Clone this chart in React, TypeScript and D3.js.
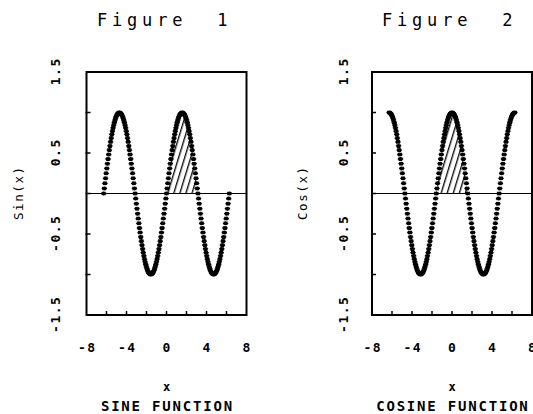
import React from "react";
import * as d3 from "d3";

// ---- data ----
const N_POINTS = 201;
const xValues: number[] = d3.range(N_POINTS).map((i) => -2 * Math.PI + (i * 4 * Math.PI) / (N_POINTS - 1));
const sinValues: number[] = xValues.map((x) => Math.sin(x));
const cosValues: number[] = xValues.map((x) => Math.cos(x));

const titles = ["Figure  1", "Figure  2"];
const yLabels = ["Sin(x)", "Cos(x)"];
const xLabels = ["SINE FUNCTION", "COSINE FUNCTION"];
const shadeRanges: [number, number][] = [
  [0, Math.PI],
  [-Math.PI / 2, Math.PI / 2],
];
const xTickMarks = [-6, -4, -2, 0, 2, 4, 6];
const xTickLabels = [-8, -4, 0, 4, 8];
const yTickMarks = [1, 0.5, 0, -0.5, -1];
const yTickLabels = ["1.5", "0.5", "-0.5", "-1.5"];
const xDomain: [number, number] = [-8, 8];
const yDomain: [number, number] = [-1.5, 1.5];

const W = 533;
const H = 414;

const MONO = "'DejaVu Sans Mono', 'Liberation Mono', monospace";

const starPath = "M-2.7,0H2.7M0,-2V2M-1.9,-1.5L1.9,1.5M-1.9,1.5L1.9,-1.5";

type PanelProps = {
  idx: number;
  left: number;
  values: number[];
  ylabX: number;
  ytickX: number;
  titleX: number;
};

function Panel({ idx, left, values, ylabX, ytickX, titleX }: PanelProps) {
  const x = d3.scaleLinear().domain(xDomain).range([left, left + 160]);
  const y = d3.scaleLinear().domain(yDomain).range([315, 72]);
  const [lo, hi] = shadeRanges[idx];
  const pts = xValues.map((xv, i) => [xv, values[i]] as [number, number]);
  const shadePts = pts.filter((p) => p[0] >= lo - 1e-9 && p[0] <= hi + 1e-9 && p[1] >= 0);
  const area = d3
    .area<[number, number]>()
    .x((d) => x(d[0]))
    .y0(y(0))
    .y1((d) => y(d[1]));
  const cx = x(0);
  const pid = `hatch${idx}`;
  return (
    <g>
      <defs>
        <pattern
          id={pid}
          patternUnits="userSpaceOnUse"
          width={5.8}
          height={10}
          patternTransform={`translate(${x(0) + 5},0) rotate(17)`}
        >
          <line x1={0.7} y1={0} x2={0.7} y2={10} stroke="#000" strokeWidth={1.3} />
        </pattern>
      </defs>
      {/* title */}
      <text
        x={titleX}
        y={26}
        fontFamily={MONO}
        fontSize={17}
        letterSpacing={4.8}
        fill="#000"
        style={{ whiteSpace: "pre" }}
      >
        {titles[idx]}
      </text>
      {/* hatch */}
      <path d={area(shadePts) || ""} fill={`url(#${pid})`} stroke="none" />
      {/* zero line */}
      <line x1={x(-8)} x2={x(8)} y1={y(0)} y2={y(0)} stroke="#000" strokeWidth={1.2} />
      {/* frame */}
      <rect x={x(-8)} y={y(1.5)} width={x(8) - x(-8)} height={y(-1.5) - y(1.5)} fill="none" stroke="#000" strokeWidth={2} />
      {/* ticks */}
      {xTickMarks.map((t) => (
        <line key={"xt" + t} x1={x(t)} x2={x(t)} y1={y(-1.5)} y2={y(-1.5) - 4} stroke="#000" strokeWidth={1.5} />
      ))}
      {yTickMarks.map((t) => (
        <line key={"yt" + t} x1={x(-8) - 1} x2={x(-8) + 4} y1={y(t)} y2={y(t)} stroke="#000" strokeWidth={1.5} />
      ))}
      {/* x tick labels */}
      {xTickLabels.map((t) => (
        <text
          key={"xl" + t}
          x={x(t) + 0.75}
          y={347}
          textAnchor="middle"
          dominantBaseline="central"
          fontFamily={MONO}
          fontWeight="bold"
          fontSize={13}
          letterSpacing={1.5}
          fill="#000"
        >
          {t < 0 ? "-" + Math.abs(t) : String(t)}
        </text>
      ))}
      {/* y tick labels */}
      {yTickLabels.map((t) => (
        <text
          key={"yl" + t}
          transform={`translate(${ytickX},${y(+t)}) rotate(-90)`}
          x={0.75}
          textAnchor="middle"
          dominantBaseline="central"
          fontFamily={MONO}
          fontWeight="bold"
          fontSize={13}
          letterSpacing={1.5}
          fill="#000"
        >
          {t}
        </text>
      ))}
      {/* y axis label */}
      <text
        transform={`translate(${ylabX},${y(0)}) rotate(-90)`}
        x={0.8}
        textAnchor="middle"
        dominantBaseline="central"
        fontFamily={MONO}
        fontSize={12.5}
        letterSpacing={1.6}
        fill="#000"
      >
        {yLabels[idx]}
      </text>
      {/* x label */}
      <text x={cx} y={391} textAnchor="middle" fontFamily={MONO} fontWeight="bold" fontSize={12} fill="#000">
        x
      </text>
      <text
        x={cx + 0.9}
        y={411}
        textAnchor="middle"
        fontFamily={MONO}
        fontWeight="bold"
        fontSize={14}
        letterSpacing={1.8}
        fill="#000"
      >
        {xLabels[idx]}
      </text>
      {/* markers */}
      {pts.map((p, i) => (
        <path
          key={"m" + i}
          d={starPath}
          transform={`translate(${x(p[0])},${y(p[1])})`}
          fill="none"
          stroke="#000"
          strokeWidth={1.3}
        />
      ))}
    </g>
  );
}

export default function App() {
  return (
    <svg
      width={W}
      height={H}
      viewBox={`0 0 ${W} ${H}`}
      style={{ position: "absolute", left: 0, top: 0, background: "#fff" }}
    >
      <rect x={0} y={0} width={W} height={H} fill="#fff" />
      <Panel idx={0} left={86.5} values={sinValues} ylabX={18} ytickX={55} titleX={97} />
      <Panel idx={1} left={372} values={cosValues} ylabX={302} ytickX={343} titleX={382} />
    </svg>
  );
}
